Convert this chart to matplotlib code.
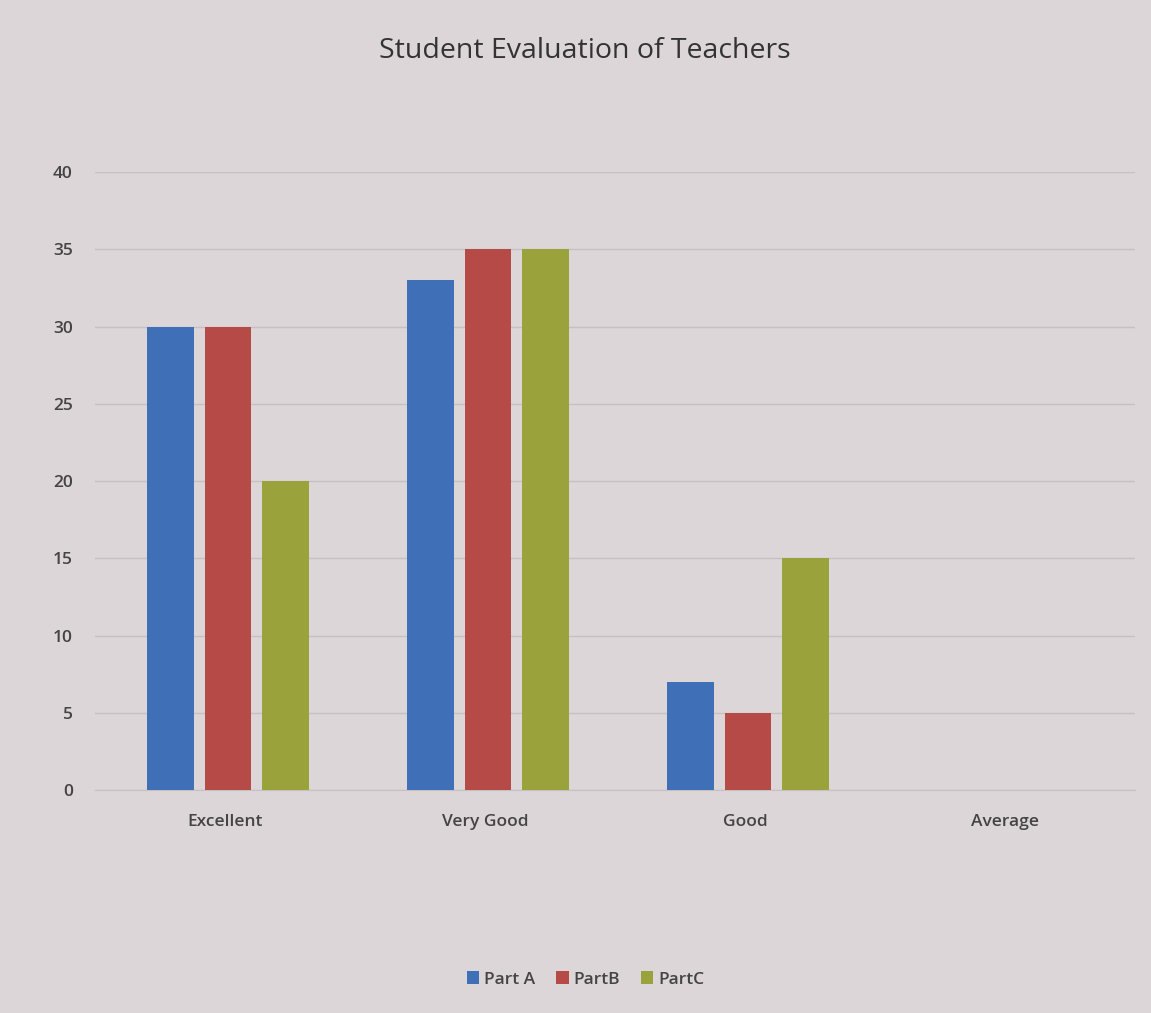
import numpy as np
import matplotlib.pyplot as plt

categories = ["Excellent", "Very Good", "Good", "Average"]
part_a = [30, 33, 7, 0]
part_b = [30, 35, 5, 0]
part_c = [20, 35, 15, 0]
series_names = ["Part A", "PartB", "PartC"]
colors = ["#3f6fb6", "#b54a47", "#9aa23c"]
bg = "#dcd6d9"

plt.rcParams["font.family"] = ["Open Sans", "DejaVu Sans"]

fig = plt.figure(figsize=(11.51, 10.13), dpi=100, facecolor=bg)
ax = fig.add_axes([0.0825, 0.22, 0.9035, 0.61], facecolor=bg)

x = np.arange(len(categories))
width = 0.18
offset = 0.222
for i, (vals, name) in enumerate(zip([part_a, part_b, part_c], series_names)):
    ax.bar(x + (i - 1) * offset + 0.012, vals, width, color=colors[i], label=name, zorder=3)

ax.set_xlim(-0.5, len(categories) - 0.5)
ax.set_ylim(0, 40)
ax.set_yticks(range(0, 41, 5))
ax.set_xticks(x)
ax.set_xticklabels(categories, fontweight="semibold")
for lab in ax.get_yticklabels():
    lab.set_fontweight("semibold")
ax.tick_params(axis="both", length=0, colors="#444444", labelsize=12.5)
ax.tick_params(axis="y", pad=16)
ax.tick_params(axis="x", pad=17)
ax.grid(axis="y", color="#c6c0c3", linewidth=1, zorder=0)
for side in ["left", "right", "top"]:
    ax.spines[side].set_visible(False)
ax.spines["bottom"].set_color("#c6c0c3")

fig.text(0.508, 0.95, "Student Evaluation of Teachers", ha="center", va="center",
         fontsize=20.5, color="#333333")

fig.legend(loc="center", bbox_to_anchor=(0.509, 0.033), ncol=3, frameon=False,
           prop={"size": 12.5, "weight": "semibold"}, handlelength=0.7,
           handleheight=0.7, handletextpad=0.3, columnspacing=1.2,
           labelcolor="#444444")

fig.savefig("out.png", dpi=100, facecolor=bg)
